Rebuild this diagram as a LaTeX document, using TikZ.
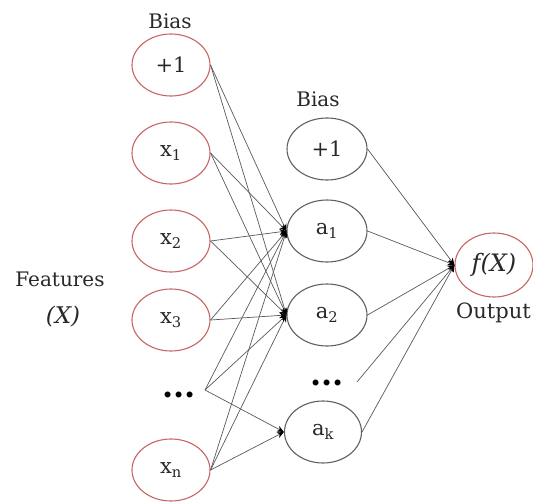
\documentclass[tikz,border=0pt]{standalone}
\usepackage{fontspec}
\setmainfont{DejaVu Serif}
\usetikzlibrary{shapes.geometric, arrows.meta, positioning}
\definecolor{inred}{RGB}{200,100,100}
\definecolor{txtgray}{RGB}{40,40,40}
\tikzstyle{inneuron} = [ellipse, minimum width=78pt, minimum height=62pt, inner sep=0pt, draw=inred, line width=1.1pt, text=txtgray, font=\fontsize{21}{24}\selectfont]
\tikzstyle{hidneuron} = [ellipse, minimum width=80pt, minimum height=62pt, inner sep=0pt, draw=gray!75!black, line width=1.1pt, text=txtgray, font=\fontsize{21}{24}\selectfont]
\tikzstyle{dots} = [inner sep=0pt, font=\fontsize{32}{34}\selectfont\bfseries, text=black]
\tikzstyle{lbl} = [inner sep=0pt, text=txtgray]
\tikzstyle{conn} = [draw=gray!70!black, line width=0.7pt, -{Stealth[length=7pt, width=6pt, color=black]}]

\begin{document}
\begin{tikzpicture}[x=1pt, y=1pt, node distance=88pt, font=\fontsize{20}{24}\selectfont]
\useasboundingbox (0,0) rectangle (533,-503);
% input layer
\node (in0) [inneuron] at (171,-65) {+1};
\node (in1) [inneuron, below of=in0] {x\textsubscript{1}};
\node (in2) [inneuron, below of=in1] {x\textsubscript{2}};
\node (in3) [inneuron, below of=in2, yshift=9pt] {x\textsubscript{3}};
\node (ind) [dots, below of=in3, xshift=8pt, yshift=13pt] {...};
\node (inn) [inneuron, below of=ind, xshift=-8pt, yshift=13pt] {x\textsubscript{n}};
\coordinate (indr) at (205,-390);
% hidden layer
\node (hb) [hidneuron] at (327,-149) {+1};
\node (h1) [hidneuron, below of=hb, yshift=6pt] {a\textsubscript{1}};
\node (h2) [hidneuron, below of=h1, yshift=4pt] {a\textsubscript{2}};
\node (hd) [dots, below of=h2, yshift=20pt] {...};
\node (hk) [hidneuron, below of=hd, xshift=-4pt, yshift=39pt, minimum width=77pt] {a\textsubscript{k}};
\coordinate (hdr) at (357,-382);
% output
\node (out) [inneuron, minimum height=64pt, font=\fontsize{24}{28}\selectfont] at (494,-265) {\textit{f(X)}};
% labels
\node (bias0) [lbl] at (170,-21) {Bias};
\node (bias1) [lbl] at (318,-99) {Bias};
\node (feat) [lbl] at (60,-279) {Features};
\node (featx) [lbl, font=\fontsize{23}{26}\selectfont] at (63,-317) {\textit{(X)}};
\node (outlbl) [lbl, anchor=east, font=\fontsize{21}{25}\selectfont] at (531,-313) {Output};
% connections
\foreach \src in {in0,in1,in2,in3,inn} {
  \draw [conn] (\src.east) -- (h1.west);
  \draw [conn] (\src.east) -- (h2.west);
}
\draw [conn] (indr) -- (h1.west);
\draw [conn] (indr) -- (h2.west);
\draw [conn] (indr) -- (hk.west);
\draw [conn] (inn.east) -- (hk.west);
\foreach \src in {hb,h1,h2,hk}
  \draw [conn] (\src.east) -- (out.west);
\draw [conn] (hdr) -- (out.west);
\end{tikzpicture}
\end{document}
